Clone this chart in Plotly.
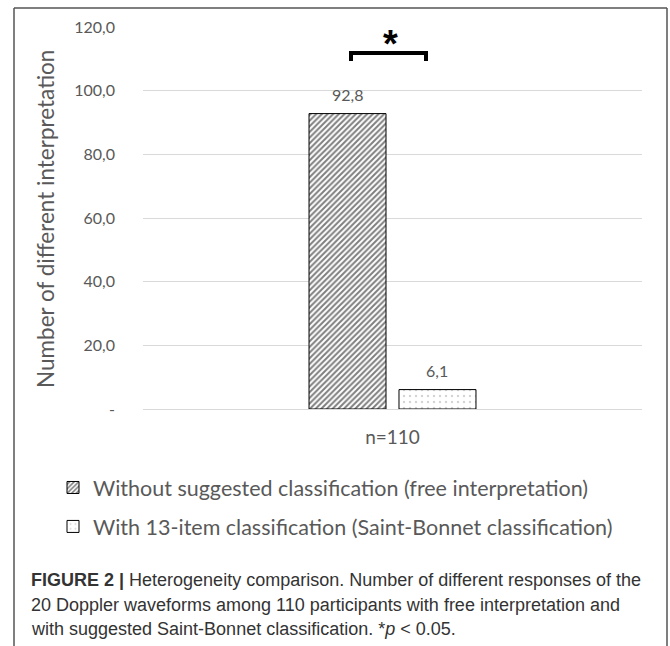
import plotly.graph_objects as go

# ---- data ----
categories = ["n=110"]
series_names = [
    "Without suggested classification (free interpretation)",
    "With 13-item classification (Saint-Bonnet classification)",
]
values_free = [92.8]
values_sb = [6.1]
value_labels_free = ["92,8"]
value_labels_sb = ["6,1"]
y_tickvals = [0, 20, 40, 60, 80, 100, 120]
y_ticktext = ["-", "20,0", "40,0", "60,0", "80,0", "100,0", "120,0"]

W, H = 670, 646
ML, MR, MT, MB = 143, 28, 27, 237
PW, PH = W - ML - MR, H - MT - MB

def px2x(px):
    return (px - ML) / PW

def px2y(py):
    return (H - MB - py) / PH

GRAY = "#595959"
CAL = "Lato, Carlito, Calibri, sans-serif"

BAR_W = 0.1543
fig = go.Figure()
fig.add_trace(go.Bar(
    x=categories, y=values_free, name=series_names[0],
    width=BAR_W, offset=-0.1673, legendgroup="g0",
    marker=dict(color="white", line=dict(color="black", width=1),
                pattern=dict(shape="/", fgcolor="black", bgcolor="white",
                             size=4, solidity=0.5)),
))
fig.add_trace(go.Bar(
    x=categories, y=values_sb, name=series_names[1],
    width=BAR_W, offset=0.0130, legendgroup="g1",
    marker=dict(color="white", line=dict(color="black", width=1),
                pattern=dict(shape=".", fgcolor="#a8a8a8", bgcolor="white",
                             size=6, solidity=0.12)),
))

annotations = []
# value labels
for off, vals, labs in [(-0.1673, values_free, value_labels_free),
                        (0.0130, values_sb, value_labels_sb)]:
    for i, (v, t) in enumerate(zip(vals, labs)):
        annotations.append(dict(
            x=i + off + BAR_W / 2, y=v, xref="x", yref="y", text=t,
            showarrow=False, yanchor="bottom", yshift=8,
            font=dict(family=CAL, size=16, color=GRAY)))

# y axis title
annotations.append(dict(
    x=px2x(45), y=px2y(219), xref="paper", yref="paper",
    text="Number of different interpretation", textangle=-90,
    showarrow=False, xanchor="center", yanchor="middle",
    font=dict(family=CAL, size=22.5, color=GRAY)))

# significance asterisk
annotations.append(dict(
    x=px2x(390), y=px2y(44), xref="paper", yref="paper", text="<b>*</b>",
    showarrow=False, xanchor="center", yanchor="middle",
    font=dict(family="Liberation Sans, Arial", size=38, color="black")))

# caption
cap_lines = [
    "<b>FIGURE 2 |</b> Heterogeneity comparison. Number of different responses of the",
    "20 Doppler waveforms among 110 participants with free interpretation and",
    "with suggested Saint-Bonnet classification. *<i>p</i> &lt; 0.05.",
]
for k, (line, py) in enumerate(zip(cap_lines, [580, 605, 629])):
    annotations.append(dict(
        x=px2x(29), y=px2y(py), xref="paper", yref="paper", text=line,
        showarrow=False, xanchor="left", yanchor="middle", align="left",
        font=dict(family="Liberation Sans, Arial", size=18, color="#333333")))

shapes = [
    # outer frame
    dict(type="line", xref="paper", yref="paper", x0=px2x(14), x1=px2x(667),
         y0=px2y(8), y1=px2y(8), line=dict(color="#555555", width=1.5)),
    dict(type="line", xref="paper", yref="paper", x0=px2x(14), x1=px2x(14),
         y0=px2y(8), y1=px2y(646), line=dict(color="#555555", width=1.5)),
    dict(type="line", xref="paper", yref="paper", x0=px2x(667), x1=px2x(667),
         y0=px2y(8), y1=px2y(646), line=dict(color="#555555", width=1.5)),
    # significance bracket
    dict(type="path", xref="paper", yref="paper",
         path=f"M {px2x(351)},{px2y(61)} L {px2x(351)},{px2y(53)} "
              f"L {px2x(426)},{px2y(53)} L {px2x(426)},{px2y(61)}",
         line=dict(color="black", width=4)),
]

fig.update_layout(
    width=W, height=H,
    margin=dict(l=ML, r=MR, t=MT, b=MB, autoexpand=False),
    paper_bgcolor="white", plot_bgcolor="white",
    barmode="overlay",
    showlegend=True,
    legend=dict(xref="container", yref="container", x=53 / W, y=1 - 467 / H,
                xanchor="left", yanchor="top", traceorder="grouped",
                tracegroupgap=8, bgcolor="rgba(0,0,0,0)",
                font=dict(family=CAL, size=21.5, color=GRAY)),
    xaxis=dict(type="category", range=[-0.5, 0.5], showgrid=False,
               showline=False, ticks="", zeroline=False, automargin=False,
               tickfont=dict(family=CAL, size=19, color=GRAY),
               ticklabelstandoff=15),
    yaxis=dict(range=[0, 120], tickvals=y_tickvals, ticktext=y_ticktext,
               showgrid=True, gridcolor="#d9d9d9", gridwidth=1,
               zeroline=True, zerolinecolor="#d9d9d9", zerolinewidth=1,
               showline=False, ticks="", ticklabelstandoff=27, automargin=False,
               tickfont=dict(family=CAL, size=16, color=GRAY)),
    annotations=annotations,
    shapes=shapes,
)

fig.write_html("out.html", config={"displayModeBar": False},
               post_script="document.body.style.margin='0px';")
